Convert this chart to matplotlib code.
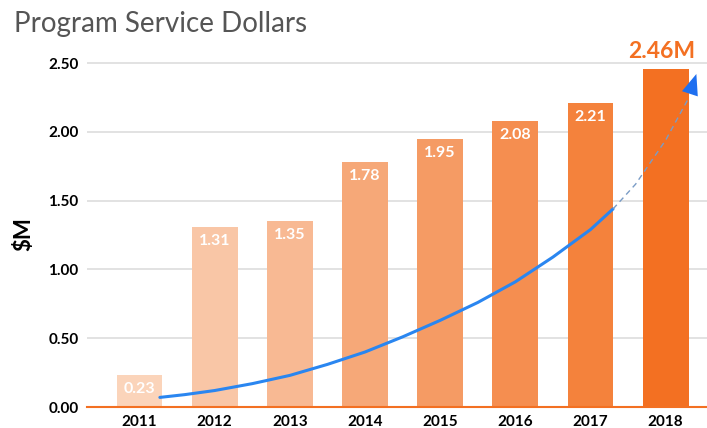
import matplotlib.pyplot as plt
import numpy as np

years = ["2011", "2012", "2013", "2014", "2015", "2016", "2017", "2018"]
values = [0.23, 1.31, 1.35, 1.78, 1.95, 2.08, 2.21, 2.46]
bar_colors = ["#FBD4BA", "#F9C6A6", "#F8B993", "#F6A878", "#F59B64",
              "#F58E50", "#F4823C", "#F37022"]
yticks = [0.0, 0.5, 1.0, 1.5, 2.0, 2.5]

# decorative trend arrow (bar index, $M)
trend_x = [0.27, 0.6, 1.0, 1.5, 2.0, 2.5, 3.0, 3.5, 4.0, 4.5, 5.0, 5.5, 6.0, 6.3,
           6.6, 7.0, 7.3]
trend_y = [0.07, 0.09, 0.12, 0.17, 0.23, 0.31, 0.40, 0.51, 0.63, 0.76, 0.91, 1.09,
           1.29, 1.44, 1.62, 1.94, 2.24]

plt.rcParams['font.family'] = ['Lato', 'DejaVu Sans']

fig = plt.figure(figsize=(7.07, 4.28), dpi=100)
ax = fig.add_axes([0.123, 0.049, 0.877, 0.81])

x = np.arange(len(years))
ax.bar(x, values, width=0.61, color=bar_colors, zorder=2)

for xi, v in zip(x[:-1], values[:-1]):
    ax.text(xi, v - 0.05, f"{v:.2f}", ha="center", va="top", color="white",
            fontsize=11.5, fontweight="bold", zorder=4)

ax.text(x[-1] - 0.05, values[-1] + 0.05, f"{values[-1]:.2f}M", ha="center",
        va="bottom", color="#F37022", fontsize=16.5, fontweight="bold", clip_on=False)

# trend line: solid part then thin dashed part
ax.plot(trend_x[:14], trend_y[:14], color="#2A86F0", lw=2.2, solid_capstyle="round", zorder=3)
ax.plot(trend_x[13:], trend_y[13:], color="#7A9CC6", lw=1, ls=(0, (4, 3)), zorder=3)
ax.annotate("", xy=(trend_x[-1] + 0.12, trend_y[-1] + 0.2), xytext=(trend_x[-1], trend_y[-1]),
            arrowprops=dict(arrowstyle="-|>,head_length=1.5,head_width=0.6",
                            color="#1E6FF0", lw=0), zorder=5)

ax.set_xlim(-0.7, 7.55)
ax.set_ylim(0, 2.52)
ax.set_yticks(yticks)
ax.set_yticklabels([f"{t:.2f}" for t in yticks], fontsize=11, fontweight="bold")
ax.set_xticks(x)
ax.set_xticklabels(years, fontsize=11, fontweight="bold")
ax.tick_params(length=0, pad=6)
ax.yaxis.grid(True, color="#DDDDDD", lw=1.2, zorder=0)
ax.set_axisbelow(True)
for s in ["top", "right", "left"]:
    ax.spines[s].set_visible(False)
ax.spines["bottom"].set_color("#F37022")
ax.spines["bottom"].set_linewidth(1.5)
ax.spines["bottom"].set_zorder(3)

ax.set_ylabel("$M", fontsize=16, fontweight="bold", labelpad=10)
fig.text(0.02, 0.945, "Program Service Dollars", fontsize=20, color="#555555",
         ha="left", va="center")

plt.savefig("out.png", dpi=100)
